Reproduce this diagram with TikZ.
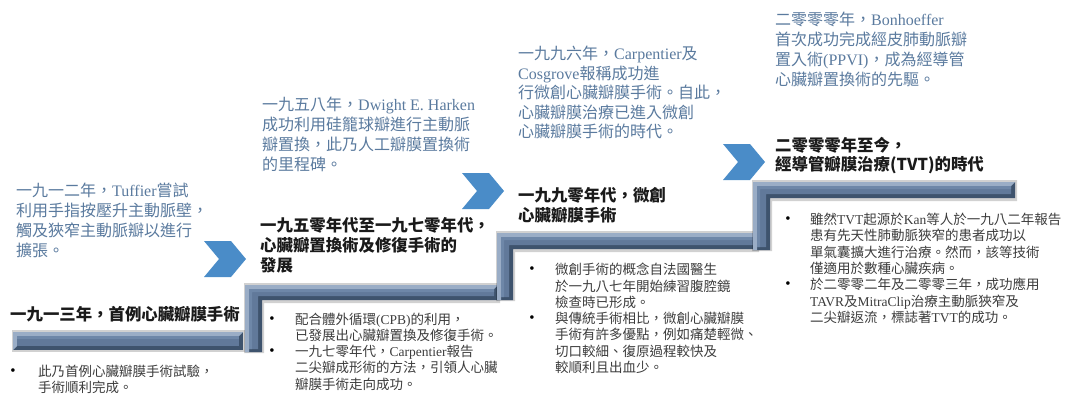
\documentclass[tikz,border=0pt]{standalone}
\usepackage{fontspec}
\setmainfont{Noto Sans CJK TC}
\newfontfamily\latfont{Liberation Serif}
\newcommand\lat[1]{{\latfont #1}}
\definecolor{chevblue}{HTML}{4A8CC8}
\definecolor{bluetxt}{HTML}{5A7A9E}
\definecolor{titletxt}{HTML}{1A1A1A}
\definecolor{itemtxt}{HTML}{3C3C3C}
\definecolor{barlight}{HTML}{9AADC6}
\definecolor{barmid}{HTML}{61799A}
\definecolor{barface}{HTML}{6E87A8}
\definecolor{bardark}{HTML}{3E536D}
\tikzset{
  bluetext/.style={anchor=north west, inner sep=0pt, align=left, text=bluetxt, font=\fontsize{16}{20}\selectfont},
  titletext/.style={anchor=north west, inner sep=0pt, align=left, text=titletxt, font=\fontsize{16.4}{19.5}\selectfont\bfseries},
  itemtext/.style={anchor=north west, inner sep=0pt, align=left, text=itemtxt, font=\fontsize{13.5}{16.3}\selectfont},
  bulletdot/.style={inner sep=0pt, text=black, font=\latfont\fontsize{15}{16}\selectfont},
  chev/.style={fill=chevblue},
  barshadow/.style={fill=black, opacity=0.18},
}
% horizontal bevelled bar: x1 x2 y1 y2
\newcommand\stepH[4]{%
  \fill[barshadow] (#1-1,#4+2) rectangle (#2+2,#3-2);
  \fill[bardark] (#1,#3) rectangle (#2,#4);
  \fill[barlight] (#1,#4) -- (#1,#3) -- (#2,#3) -- (#2-4,#3+4) -- (#1+4,#3+4) -- (#1+4,#4-4) -- cycle;
  \fill[barmid] (#1+4,#3+4) rectangle (#2-4,#4-4);
  \fill[barface] (#1+4,#3+4) rectangle (#2-4,#3+7);
}
% L-shaped bevelled bar: xl xv xr yt yh yb
\newcommand\stepL[6]{%
  \fill[barshadow] (#1-1,#6+1) -- (#1-1,#4-2) -- (#3+2,#4-2) -- (#3+2,#5+3) -- (#2+2,#5+3) -- (#2+2,#6+1) -- cycle;
  \fill[bardark] (#1,#6) -- (#1,#4) -- (#3,#4) -- (#3,#5) -- (#2,#5) -- (#2,#6) -- cycle;
  \fill[barlight] (#1,#6) -- (#1,#4) -- (#3,#4) -- (#3-4,#4+4) -- (#1+4,#4+4) -- (#1+4,#6) -- cycle;
  \fill[barmid] (#1+4,#6-3) -- (#1+4,#4+4) -- (#3-4,#4+4) -- (#3-4,#5-4) -- (#2-4,#5-4) -- (#2-4,#6-3) -- cycle;
  \fill[barface] (#1+4,#6-3) -- (#1+4,#4+4) -- (#3-4,#4+4) -- (#3-4,#4+7) -- (#1+7,#4+7) -- (#1+7,#6-3) -- cycle;
}
\begin{document}
\begin{tikzpicture}[x=1pt, y=-1pt]
\useasboundingbox (0,0) rectangle (1065,394);
% steps
\stepH{13}{243}{332}{350}
\stepL{245}{262}{498}{285}{300}{352}
\stepL{497}{513}{757}{233}{249}{300}
\stepL{753}{770}{1015}{182}{198}{250}
% chevrons
\fill[chev] (204,241) -- (231,241) -- (246,259) -- (231,277) -- (204,277) -- (219,259) -- cycle;
\fill[chev] (462,173) -- (489,173) -- (504,191) -- (489,209) -- (462,209) -- (477,191) -- cycle;
\fill[chev] (723,144) -- (750,144) -- (765,162) -- (750,180) -- (723,180) -- (738,162) -- cycle;
% blue texts
\node[bluetext] (t1) at (16,183) {一九一二年，\lat{Tuffier}嘗試\\利用手指按壓升主動脈壁，\\觸及狹窄主動脈瓣以進行\\擴張。};
\node[bluetext] (t2) at (262,97) {一九五八年，\lat{Dwight E. Harken}\\成功利用硅籠球瓣進行主動脈\\瓣置換，此乃人工瓣膜置換術\\的里程碑。};
\node[bluetext, font=\fontsize{16}{19.5}\selectfont] (t3) at (518,46) {一九九六年，\lat{Carpentier}及\\\lat{Cosgrove}報稱成功進\\行微創心臟瓣膜手術。自此，\\心臟瓣膜治療已進入微創\\心臟瓣膜手術的時代。};
\node[bluetext] (t4) at (775,12) {二零零零年，\lat{Bonhoeffer}\\首次成功完成經皮肺動脈瓣\\置入術\lat{(PPVI)}，成為經導管\\心臟瓣置換術的先驅。};
% titles
\node[titletext] (h1) at (10,306) {一九一三年，首例心臟瓣膜手術};
\node[titletext, font=\fontsize{16.4}{20}\selectfont\bfseries] (h2) at (260,217) {一九五零年代至一九七零年代，\\心臟瓣置換術及修復手術的\\發展};
\node[titletext, font=\fontsize{16.4}{20}\selectfont\bfseries] (h3) at (518,187) {一九九零年代，微創\\心臟瓣膜手術};
\node[titletext] (h4) at (775,137) {二零零零年至今，\\經導管瓣膜治療(TVT)的時代};
% bullet items
\node[bulletdot] (d1a) at (13,372) {•};
\node[itemtext] (i1a) at (38,365) {此乃首例心臟瓣膜手術試驗，\\手術順利完成。};
\node[bulletdot] (d2a) at (272,320) {•};
\node[itemtext] (i2a) at (295,313) {配合體外循環\lat{(CPB)}的利用，\\已發展出心臟瓣置換及修復手術。};
\node[bulletdot] (d2b) at (272,352) {•};
\node[itemtext] (i2b) at (295,345) {一九七零年代，\lat{Carpentier}報告\\二尖瓣成形術的方法，引領人心臟\\瓣膜手術走向成功。};
\node[bulletdot] (d3a) at (532,270) {•};
\node[itemtext] (i3a) at (555,263) {微創手術的概念自法國醫生\\於一九八七年開始練習腹腔鏡\\檢查時已形成。};
\node[bulletdot] (d3b) at (532,319) {•};
\node[itemtext] (i3b) at (555,312) {與傳統手術相比，微創心臟瓣膜\\手術有許多優點，例如痛楚輕微、\\切口較細、復原過程較快及\\較順利且出血少。};
\node[bulletdot] (d4a) at (788,220) {•};
\node[itemtext] (i4a) at (810,213) {雖然\lat{TVT}起源於\lat{Kan}等人於一九八二年報告\\患有先天性肺動脈狹窄的患者成功以\\單氣囊擴大進行治療。然而，該等技術\\僅適用於數種心臟疾病。};
\node[bulletdot] (d4b) at (788,285) {•};
\node[itemtext] (i4b) at (810,278) {於二零零二年及二零零三年，成功應用\\\lat{TAVR}及\lat{MitraClip}治療主動脈狹窄及\\二尖瓣返流，標誌著\lat{TVT}的成功。};
\end{tikzpicture}
\end{document}
